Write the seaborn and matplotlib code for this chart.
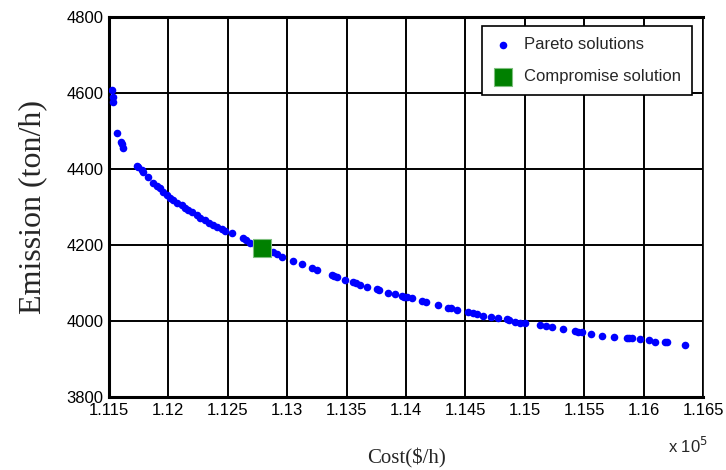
import matplotlib
matplotlib.use("Agg")
import matplotlib.pyplot as plt
import seaborn as sns
import pandas as pd

# Pareto front (cost in units of 1e5 $/h, emission in ton/h)
cost = [1.11528, 1.11530, 1.11532, 1.11565, 1.11598, 1.11608, 1.11620, 1.11733,
        1.11745, 1.11775, 1.11790, 1.11831, 1.11873, 1.11900, 1.11930, 1.11955,
        1.11986, 1.12010, 1.12041, 1.12075, 1.12112, 1.12140, 1.12168, 1.12200,
        1.12238, 1.12270, 1.12308, 1.12340, 1.12378, 1.12410, 1.12449, 1.12480,
        1.12533, 1.12630, 1.12655, 1.12687, 1.12740, 1.12883, 1.12910, 1.12954,
        1.13046, 1.13122, 1.13211, 1.13248, 1.13374, 1.13395, 1.13417, 1.13486,
        1.13557, 1.13580, 1.13613, 1.13674, 1.13753, 1.13770, 1.13851, 1.13907,
        1.13964, 1.13985, 1.14006, 1.14048, 1.14132, 1.14168, 1.14267, 1.14356,
        1.14375, 1.14427, 1.14525, 1.14560, 1.14595, 1.14650, 1.14713, 1.14777,
        1.14848, 1.14870, 1.14917, 1.14960, 1.15002, 1.15128, 1.15176, 1.15226,
        1.15324, 1.15422, 1.15450, 1.15479, 1.15555, 1.15652, 1.15753, 1.15858,
        1.15880, 1.15900, 1.15970, 1.16045, 1.16096, 1.16180, 1.16194, 1.16348]
emission = [4608, 4590, 4577, 4496, 4472, 4465, 4454, 4409,
            4405, 4397, 4392, 4378, 4362, 4355, 4349, 4340,
            4332, 4325, 4318, 4311, 4305, 4298, 4292, 4286,
            4279, 4272, 4266, 4259, 4253, 4247, 4241, 4236,
            4231, 4218, 4212, 4206, 4198, 4182, 4176, 4169,
            4159, 4149, 4140, 4134, 4121, 4119, 4117, 4108,
            4102, 4099, 4095, 4090, 4083, 4081, 4075, 4071,
            4067, 4064, 4062, 4060, 4053, 4049, 4042, 4035,
            4033, 4029, 4023, 4020, 4018, 4014, 4011, 4009,
            4004, 4002, 3998, 3996, 3994, 3989, 3987, 3983,
            3979, 3974, 3972, 3970, 3966, 3961, 3959, 3956,
            3955, 3954, 3952, 3950, 3946, 3944, 3944, 3937]

comp_cost = [1.1279]
comp_emission = [4191]

x_ticks = [1.115, 1.12, 1.125, 1.13, 1.135, 1.14, 1.145, 1.15, 1.155, 1.16, 1.165]
x_tick_labels = ["1.115", "1.12", "1.125", "1.13", "1.135", "1.14", "1.145",
                 "1.15", "1.155", "1.16", "1.165"]
y_ticks = [3800, 4000, 4200, 4400, 4600, 4800]

sns.set_style("white")
sans = ["Liberation Sans", "DejaVu Sans"]
serif = ["Liberation Serif", "DejaVu Serif"]
plt.rcParams["font.family"] = sans

fig = plt.figure(figsize=(7.26, 4.70), dpi=100)
ax = fig.add_axes([109 / 726, 1 - 397 / 470, (703 - 109) / 726, (397 - 17) / 470])

df = pd.DataFrame({"cost": cost, "emission": emission})
dfc = pd.DataFrame({"cost": comp_cost, "emission": comp_emission})

sns.scatterplot(data=df, x="cost", y="emission", ax=ax, color=(0, 0, 1),
                s=30, linewidth=0, marker="o", label="Pareto solutions", zorder=3)
sns.scatterplot(data=dfc, x="cost", y="emission", ax=ax, color=(0, 0.5, 0),
                s=150, marker="s", edgecolor="#7fbf7f", linewidth=0.8,
                label="Compromise solution", zorder=4)

ax.set_xlim(1.115, 1.165)
ax.set_ylim(3800, 4800)
ax.set_xticks(x_ticks)
ax.set_xticklabels(x_tick_labels)
ax.set_yticks(y_ticks)
ax.tick_params(axis="both", direction="in", length=4, width=1, labelsize=12,
               colors="black", pad=4)
ax.grid(True, color="black", linewidth=1.4, linestyle="-")
ax.set_axisbelow(True)
for side, sp in ax.spines.items():
    sp.set_color("black")
    sp.set_linewidth(2.2 if side in ("top", "left", "bottom") else 1.2)

ax.set_xlabel("Cost($/h)", family=serif, fontsize=15, labelpad=22)
ax.set_ylabel("Emission (ton/h)", family=serif, fontsize=23, labelpad=14)

fig.text(668 / 726, 1 - 453 / 470, r"x 10$^{5}$", fontsize=12, family=sans,
         ha="left", va="baseline")

leg = ax.legend(loc="upper right", bbox_to_anchor=(0.9815, 0.976), fontsize=12,
                frameon=True, fancybox=False, borderpad=0.65, handletextpad=0.6,
                labelspacing=1.05, borderaxespad=0, markerscale=1.0,
                handlelength=1.3)
leg.get_frame().set_edgecolor("black")
leg.get_frame().set_linewidth(1.2)
leg.get_frame().set_facecolor("white")
leg.get_frame().set_alpha(1)

fig.savefig("out.png", dpi=100)
